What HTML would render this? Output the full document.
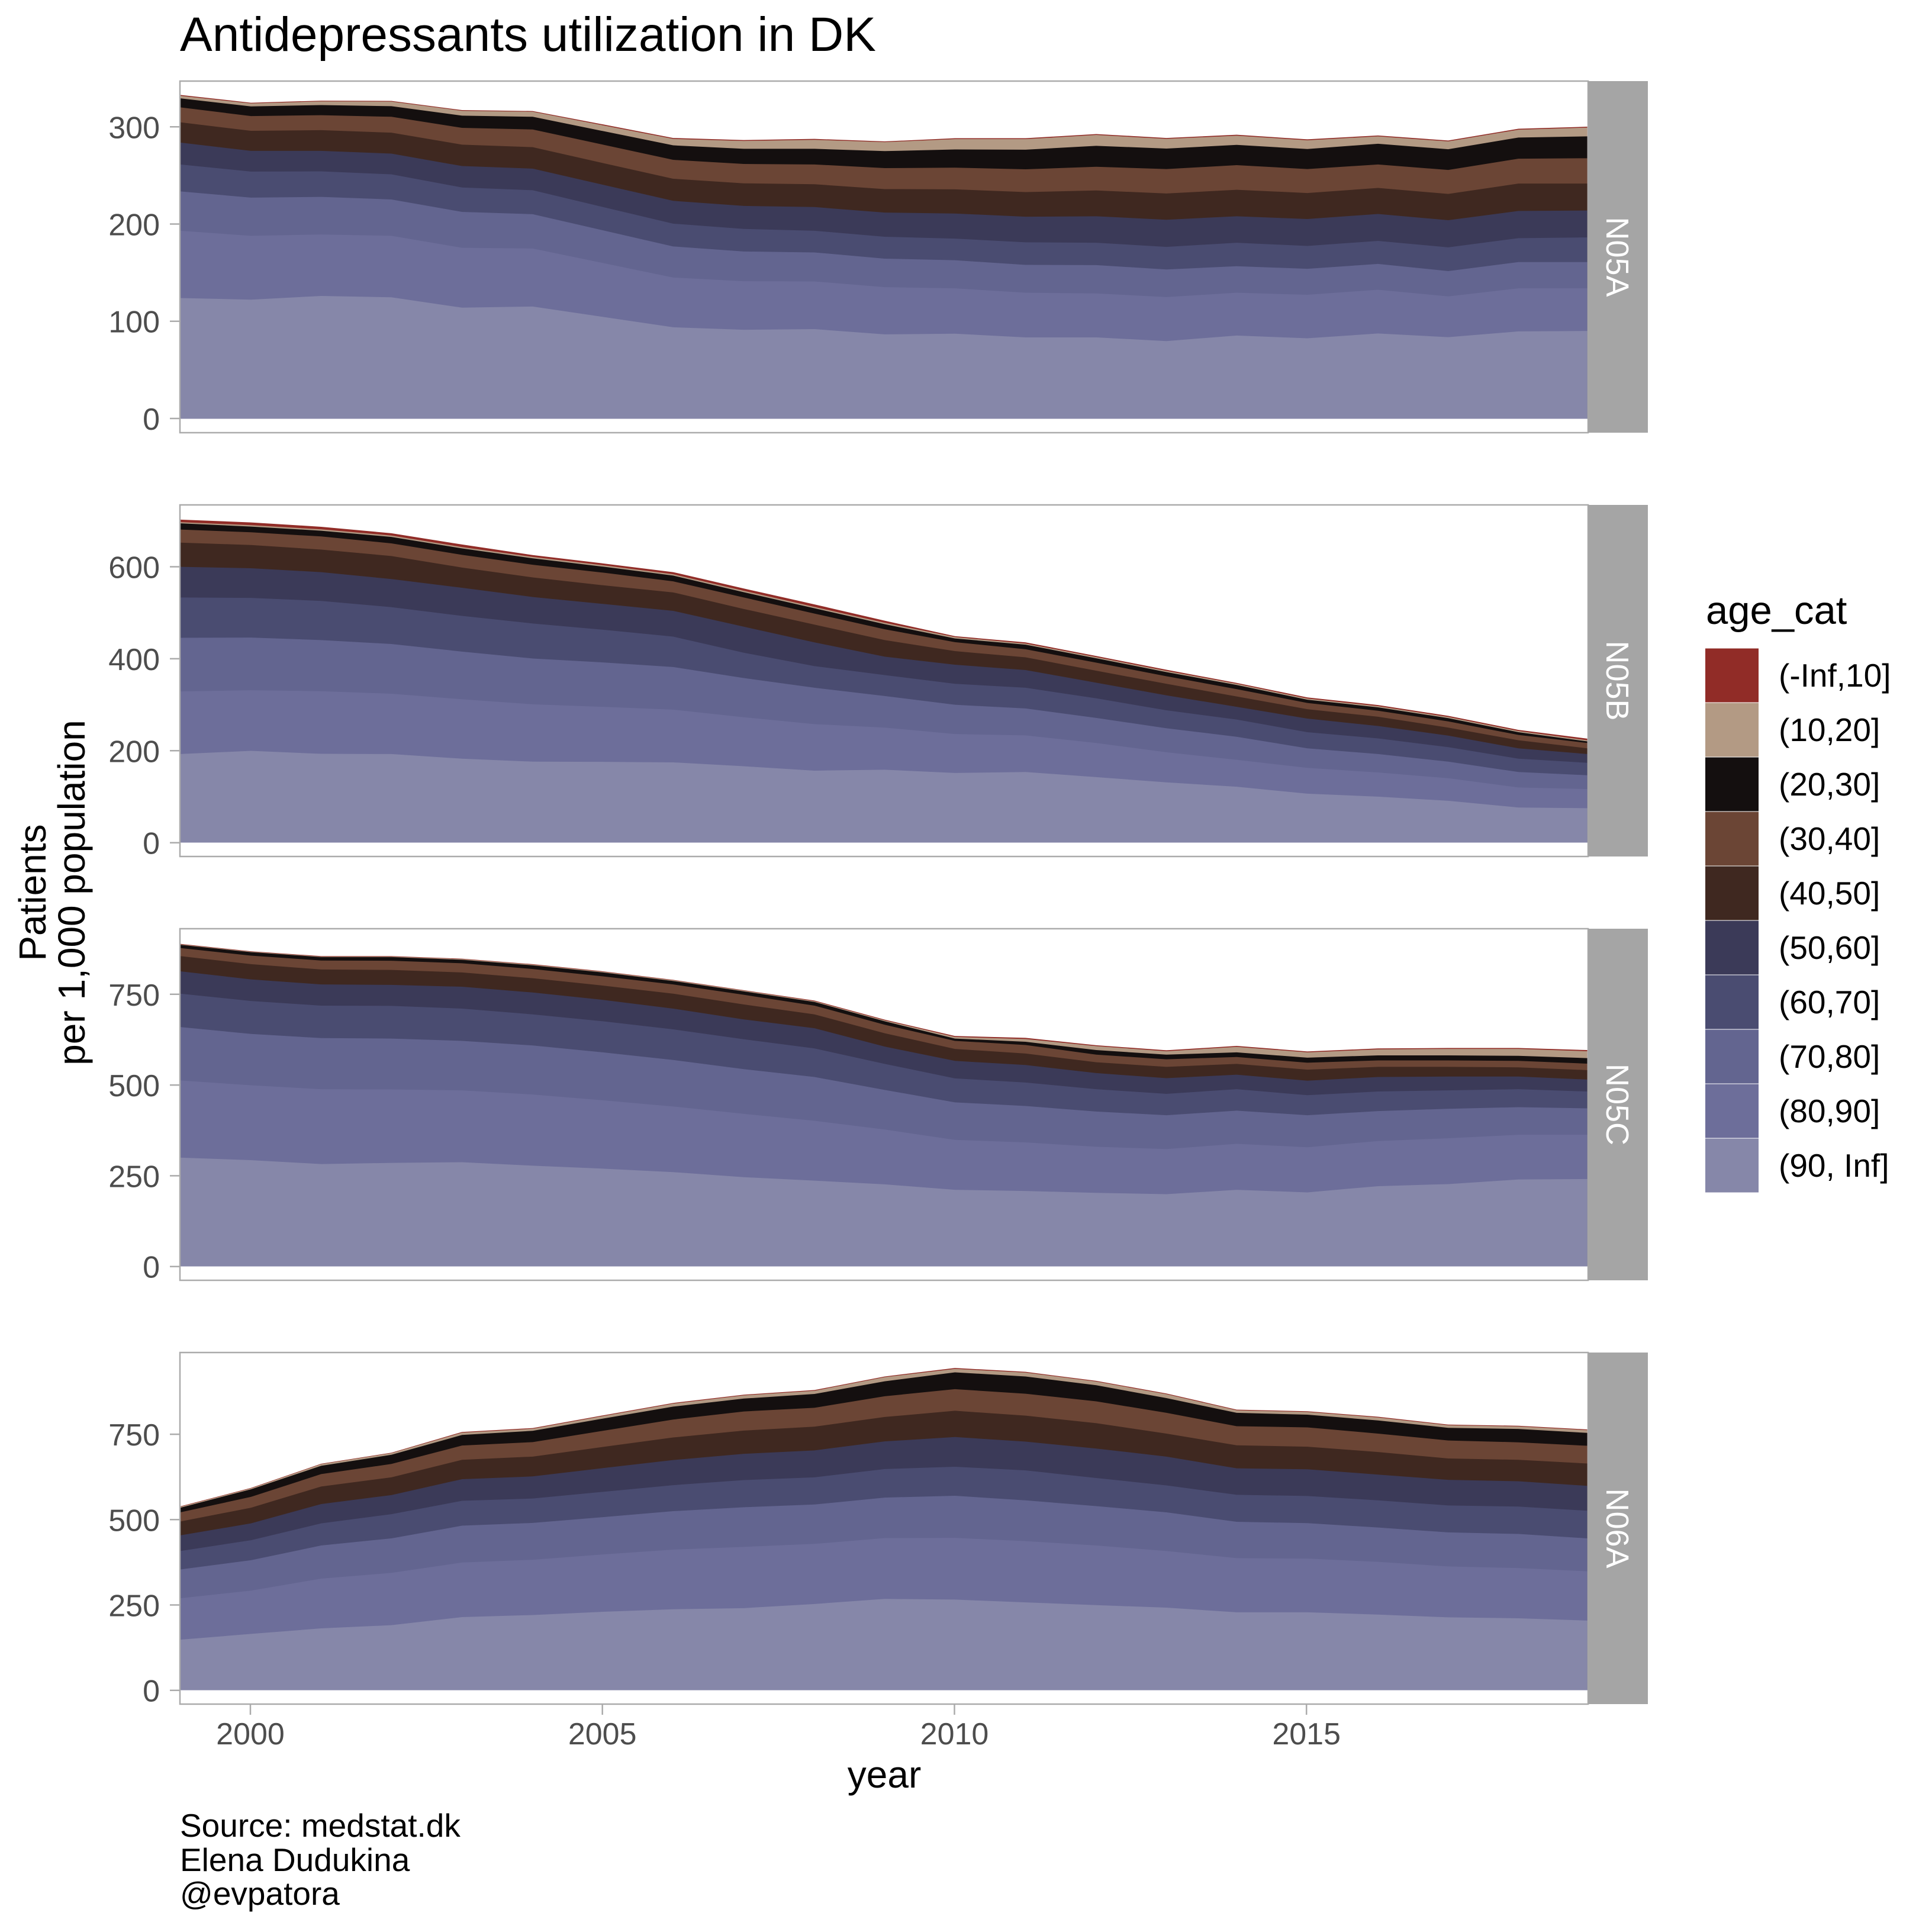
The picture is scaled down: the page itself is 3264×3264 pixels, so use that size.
<!DOCTYPE html>
<html>
<head>
<meta charset="utf-8">
<style>
html,body{margin:0;padding:0;background:#ffffff;}
svg{display:block;}
text{font-family:"Liberation Sans",sans-serif;}
</style>
</head>
<body>
<svg xmlns="http://www.w3.org/2000/svg" width="3264" height="3264" viewBox="0 0 3264 3264">
<rect x="0" y="0" width="3264" height="3264" fill="#ffffff"/>

<!-- Title -->
<text x="304" y="86" font-size="82" fill="#000000">Antidepressants utilization in DK</text>

<!-- ============ PANEL 1 (N05A) ============ -->
<rect x="304" y="137" width="2379" height="594" fill="#ffffff"/>
<g transform="translate(300,130) scale(1.530612,0.389031)">
<polygon fill="#912C27" points="3,78 81,112 158.5,103 236,104 314,144 392,148 469.5,206 547,265 625,274 703,269 780.5,280 858,266 936,266 1014,248 1091.5,265 1169,251 1247,271 1325,254 1402.5,276 1480,225 1556,216 1556,1484 3,1484"/>
<polygon fill="#B39A84" points="3,82 81,115 158.5,106 236,107 314,147 392,151 469.5,210 547,269 625,278 703,273 780.5,283 858,270 936,270 1014,252 1091.5,269 1169,255 1247,275 1325,258 1402.5,280 1480,229 1556,220 1556,1484 3,1484"/>
<polygon fill="#140F0F" points="3,93 81,128 158.5,122 236,127 314,168 392,173 469.5,235 547,297 625,312 703,312 780.5,322 858,315 936,316 1014,299 1091.5,311 1169,295 1247,313 1325,290 1402.5,314 1480,263 1556,258 1556,1484 3,1484"/>
<polygon fill="#6B4535" points="3,132 81,170 158.5,166 236,173 314,221 392,228 469.5,294 547,360 625,378 703,380 780.5,396 858,394 936,401 1014,390 1091.5,400 1169,383 1247,400 1325,380 1402.5,404 1480,355 1556,353 1556,1484 3,1484"/>
<polygon fill="#3F2820" points="3,197 81,234 158.5,231 236,242 314,294 392,305 469.5,374 547,442 625,462 703,466 780.5,487 858,488 936,500 1014,493 1091.5,506 1169,490 1247,504 1325,482 1402.5,508 1480,463 1556,463 1556,1484 3,1484"/>
<polygon fill="#3B3A58" points="3,285 81,321 158.5,321 236,333 314,387 392,398 469.5,468 547,538 625,560 703,565 780.5,589 858,593 936,607 1014,605 1091.5,620 1169,605 1247,617 1325,595 1402.5,622 1480,582 1556,580 1556,1484 3,1484"/>
<polygon fill="#4A4C71" points="3,380 81,411 158.5,410 236,423 314,480 392,492 469.5,565 547,637 625,660 703,668 780.5,694 858,702 936,718 1014,720 1091.5,738 1169,720 1247,734 1325,712 1402.5,740 1480,700 1556,697 1556,1484 3,1484"/>
<polygon fill="#636590" points="3,497 81,524 158.5,521 236,532 314,586 392,596 469.5,666 547,736 625,758 703,762 780.5,789 858,796 936,816 1014,817 1091.5,836 1169,822 1247,833 1325,812 1402.5,843 1480,804 1556,804 1556,1484 3,1484"/>
<polygon fill="#6D6E9A" points="3,668 81,690 158.5,684 236,690 314,742 392,745 469.5,808 547,871 625,887 703,888 780.5,913 858,918 936,937 1014,940 1091.5,956 1169,937 1247,946 1325,924 1402.5,953 1480,918 1556,918 1556,1484 3,1484"/>
<polygon fill="#8687A9" points="3,960 81,967 158.5,951 236,957 314,1002 392,997 469.5,1042 547,1087 625,1098 703,1095 780.5,1118 858,1115 936,1131 1014,1131 1091.5,1147 1169,1123 1247,1135 1325,1114 1402.5,1130 1480,1105 1556,1103 1556,1484 3,1484"/>
</g>
<rect x="304" y="137" width="2379" height="594" fill="none" stroke="#ABABAB" stroke-width="2.5"/>
<rect x="2683" y="137" width="101" height="594" fill="#A5A5A5"/>
<text transform="translate(2714,434) rotate(90)" text-anchor="middle" font-size="54" fill="#ffffff">N05A</text>
<g stroke="#ABABAB" stroke-width="2.5">
<line x1="287" y1="707" x2="304" y2="707"/>
<line x1="287" y1="542.7" x2="304" y2="542.7"/>
<line x1="287" y1="378.5" x2="304" y2="378.5"/>
<line x1="287" y1="214.3" x2="304" y2="214.3"/>
</g>
<g font-size="52" fill="#4D4D4D" text-anchor="end">
<text x="270" y="726">0</text>
<text x="270" y="561.7">100</text>
<text x="270" y="397.5">200</text>
<text x="270" y="233.3">300</text>
</g>

<!-- ============ PANEL 2 (N05B) ============ -->
<rect x="304" y="853" width="2379" height="594" fill="#ffffff"/>
<g transform="translate(300,846) scale(1.530612,0.389031)">
<polygon fill="#912C27" points="3,82 81,94 158.5,113 236,141 314,190 392,236 469.5,272 547,310 625,381 703,450 780.5,521 858,588 936,615 1014,674 1091.5,734 1169,791 1247,854 1325,887 1402.5,934 1480,995 1556,1033 1556,1484 3,1484"/>
<polygon fill="#B39A84" points="3,93 81,106 158.5,124 236,151 314,201 392,244 469.5,280 547,319 625,391 703,461 780.5,530 858,592 936,620 1014,679 1091.5,739 1169,795 1247,859 1325,892 1402.5,939 1480,1000 1556,1040 1556,1484 3,1484"/>
<polygon fill="#140F0F" points="3,98 81,112 158.5,130 236,157 314,207 392,250 469.5,286 547,325 625,397 703,467 780.5,536 858,598 936,625 1014,684 1091.5,744 1169,800 1247,864 1325,897 1402.5,944 1480,1005 1556,1045 1556,1484 3,1484"/>
<polygon fill="#6B4535" points="3,125 81,137 158.5,155 236,185 314,235 392,278 469.5,312 547,350 625,420 703,490 780.5,558 858,614 936,645 1014,703 1091.5,762 1169,818 1247,878 1325,912 1402.5,958 1480,1017 1556,1052 1556,1484 3,1484"/>
<polygon fill="#3F2820" points="3,182 81,192 158.5,212 236,240 314,290 392,333 469.5,367 547,398 625,470 703,538 780.5,605 858,653 936,680 1014,738 1091.5,795 1169,850 1247,905 1325,938 1402.5,985 1480,1040 1556,1075 1556,1484 3,1484"/>
<polygon fill="#3B3A58" points="3,287 81,293 158.5,310 236,340 314,378 392,418 469.5,448 547,478 625,547 703,615 780.5,677 858,712 936,735 1014,790 1091.5,845 1169,895 1247,946 1325,978 1402.5,1020 1480,1075 1556,1100 1556,1484 3,1484"/>
<polygon fill="#4A4C71" points="3,420 81,422 158.5,435 236,462 314,500 392,533 469.5,560 547,590 625,660 703,718 780.5,757 858,795 936,812 1014,858 1091.5,910 1169,950 1247,1005 1325,1032 1402.5,1070 1480,1120 1556,1138 1556,1484 3,1484"/>
<polygon fill="#636590" points="3,595 81,594 158.5,605 236,622 314,655 392,685 469.5,702 547,722 625,770 703,812 780.5,848 858,886 936,902 1014,943 1091.5,988 1169,1025 1247,1075 1325,1100 1402.5,1133 1480,1178 1556,1192 1556,1484 3,1484"/>
<polygon fill="#6D6E9A" points="3,828 81,823 158.5,827 236,838 314,862 392,884 469.5,895 547,907 625,940 703,970 780.5,985 858,1013 936,1019 1014,1052 1091.5,1092 1169,1125 1247,1160 1325,1180 1402.5,1205 1480,1245 1556,1252 1556,1484 3,1484"/>
<polygon fill="#8687A9" points="3,1100 81,1086 158.5,1099 236,1100 314,1120 392,1133 469.5,1134 547,1136 625,1153 703,1172 780.5,1168 858,1182 936,1178 1014,1200 1091.5,1223 1169,1242 1247,1272 1325,1285 1402.5,1303 1480,1332 1556,1335 1556,1484 3,1484"/>
</g>
<rect x="304" y="853" width="2379" height="594" fill="none" stroke="#ABABAB" stroke-width="2.5"/>
<rect x="2683" y="853" width="101" height="594" fill="#A5A5A5"/>
<text transform="translate(2714,1150) rotate(90)" text-anchor="middle" font-size="54" fill="#ffffff">N05B</text>
<g stroke="#ABABAB" stroke-width="2.5">
<line x1="287" y1="1423.7" x2="304" y2="1423.7"/>
<line x1="287" y1="1268.3" x2="304" y2="1268.3"/>
<line x1="287" y1="1112.9" x2="304" y2="1112.9"/>
<line x1="287" y1="957.5" x2="304" y2="957.5"/>
</g>
<g font-size="52" fill="#4D4D4D" text-anchor="end">
<text x="270" y="1442.7">0</text>
<text x="270" y="1287.3">200</text>
<text x="270" y="1131.9">400</text>
<text x="270" y="976.5">600</text>
</g>

<!-- ============ PANEL 3 (N05C) ============ -->
<rect x="304" y="1569" width="2379" height="594" fill="#ffffff"/>
<g transform="translate(300,1562) scale(1.530612,0.389031)">
<polygon fill="#912C27" points="3,84 81,116 158.5,137 236,137 314,148 392,172 469.5,203 547,240 625,285 703,330 780.5,413 858,484 936,492 1014,524 1091.5,546 1169,527 1247,551 1325,538 1402.5,536 1480,536 1556,545 1556,1484 3,1484"/>
<polygon fill="#B39A84" points="3,86 81,118 158.5,139 236,139 314,150 392,174 469.5,205 547,242 625,287 703,333 780.5,416 858,488 936,497 1014,528 1091.5,550 1169,531 1247,555 1325,542 1402.5,540 1480,540 1556,550 1556,1484 3,1484"/>
<polygon fill="#140F0F" points="3,88 81,120 158.5,141 236,141 314,153 392,177 469.5,208 547,245 625,290 703,336 780.5,420 858,495 936,509 1014,545 1091.5,565 1169,555 1247,578 1325,568 1402.5,568 1480,570 1556,580 1556,1484 3,1484"/>
<polygon fill="#6B4535" points="3,102 81,135 158.5,156 236,157 314,168 392,193 469.5,225 547,260 625,305 703,352 780.5,435 858,505 936,523 1014,565 1091.5,585 1169,575 1247,600 1325,590 1402.5,590 1480,592 1556,604 1556,1484 3,1484"/>
<polygon fill="#3F2820" points="3,137 81,172 158.5,195 236,197 314,208 392,233 469.5,265 547,300 625,347 703,390 780.5,472 858,540 936,560 1014,598 1091.5,618 1169,605 1247,630 1325,618 1402.5,618 1480,620 1556,632 1556,1484 3,1484"/>
<polygon fill="#3B3A58" points="3,203 81,238 158.5,260 236,262 314,270 392,295 469.5,327 547,365 625,412 703,450 780.5,530 858,592 936,610 1014,645 1091.5,667 1169,652 1247,678 1325,662 1402.5,660 1480,660 1556,673 1556,1484 3,1484"/>
<polygon fill="#4A4C71" points="3,300 81,332 158.5,352 236,353 314,365 392,390 469.5,420 547,455 625,498 703,538 780.5,605 858,668 936,686 1014,715 1091.5,735 1169,715 1247,741 1325,725 1402.5,720 1480,715 1556,725 1556,1484 3,1484"/>
<polygon fill="#636590" points="3,445 81,475 158.5,493 236,495 314,505 392,525 469.5,555 547,588 625,628 703,662 780.5,718 858,772 936,788 1014,812 1091.5,828 1169,808 1247,828 1325,810 1402.5,800 1480,793 1556,798 1556,1484 3,1484"/>
<polygon fill="#6D6E9A" points="3,677 81,698 158.5,715 236,716 314,720 392,738 469.5,763 547,790 625,822 703,852 780.5,890 858,935 936,946 1014,965 1091.5,975 1169,952 1247,967 1325,940 1402.5,928 1480,913 1556,913 1556,1484 3,1484"/>
<polygon fill="#8687A9" points="3,1012 81,1023 158.5,1040 236,1035 314,1032 392,1047 469.5,1060 547,1075 625,1097 703,1112 780.5,1128 858,1152 936,1157 1014,1165 1091.5,1171 1169,1152 1247,1163 1325,1136 1402.5,1127 1480,1107 1556,1105 1556,1484 3,1484"/>
</g>
<rect x="304" y="1569" width="2379" height="594" fill="none" stroke="#ABABAB" stroke-width="2.5"/>
<rect x="2683" y="1569" width="101" height="594" fill="#A5A5A5"/>
<text transform="translate(2714,1866) rotate(90)" text-anchor="middle" font-size="54" fill="#ffffff">N05C</text>
<g stroke="#ABABAB" stroke-width="2.5">
<line x1="287" y1="2139.7" x2="304" y2="2139.7"/>
<line x1="287" y1="1986.4" x2="304" y2="1986.4"/>
<line x1="287" y1="1833.1" x2="304" y2="1833.1"/>
<line x1="287" y1="1679.8" x2="304" y2="1679.8"/>
</g>
<g font-size="52" fill="#4D4D4D" text-anchor="end">
<text x="270" y="2158.7">0</text>
<text x="270" y="2005.4">250</text>
<text x="270" y="1852.1">500</text>
<text x="270" y="1698.8">750</text>
</g>

<!-- ============ PANEL 4 (N06A) ============ -->
<rect x="304" y="2285" width="2379" height="594" fill="#ffffff"/>
<g transform="translate(300,2278) scale(1.530612,0.389031)">
<polygon fill="#912C27" points="3,686 81,606 158.5,501 236,453 314,363 392,346 469.5,291 547,237 625,201 703,181 780.5,122 858,85 936,102 1014,141 1091.5,196 1169,266 1247,273 1325,297 1402.5,331 1480,336 1556,352 1556,1484 3,1484"/>
<polygon fill="#B39A84" points="3,688 81,608 158.5,503 236,455 314,366 392,349 469.5,294 547,240 625,204 703,184 780.5,125 858,89 936,105 1014,144 1091.5,199 1169,269 1247,276 1325,300 1402.5,334 1480,339 1556,355 1556,1484 3,1484"/>
<polygon fill="#140F0F" points="3,692 81,612 158.5,510 236,462 314,376 392,358 469.5,305 547,253 625,218 703,198 780.5,143 858,104 936,122 1014,160 1091.5,216 1169,280 1247,288 1325,313 1402.5,345 1480,350 1556,367 1556,1484 3,1484"/>
<polygon fill="#6B4535" points="3,712 81,645 158.5,546 236,502 314,422 392,407 469.5,358 547,309 625,274 703,258 780.5,208 858,177 936,197 1014,230 1091.5,280 1169,338 1247,343 1325,370 1402.5,400 1480,408 1556,423 1556,1484 3,1484"/>
<polygon fill="#3F2820" points="3,752 81,692 158.5,600 236,560 314,484 392,470 469.5,428 547,387 625,357 703,340 780.5,298 858,271 936,292 1014,325 1091.5,370 1169,421 1247,427 1325,450 1402.5,478 1480,484 1556,500 1556,1484 3,1484"/>
<polygon fill="#3B3A58" points="3,812 81,760 158.5,676 236,637 314,568 392,556 469.5,520 547,485 625,458 703,443 780.5,404 858,385 936,405 1014,435 1091.5,470 1169,521 1247,525 1325,548 1402.5,571 1480,577 1556,597 1556,1484 3,1484"/>
<polygon fill="#4A4C71" points="3,880 81,833 158.5,760 236,720 314,662 392,652 469.5,623 547,594 625,572 703,560 780.5,524 858,514 936,530 1014,563 1091.5,595 1169,636 1247,641 1325,660 1402.5,682 1480,687 1556,705 1556,1484 3,1484"/>
<polygon fill="#636590" points="3,960 81,920 158.5,856 236,825 314,770 392,758 469.5,733 547,707 625,690 703,678 780.5,648 858,640 936,660 1014,685 1091.5,712 1169,753 1247,759 1325,778 1402.5,799 1480,806 1556,825 1556,1484 3,1484"/>
<polygon fill="#6D6E9A" points="3,1085 81,1052 158.5,1000 236,975 314,930 392,918 469.5,895 547,874 625,862 703,849 780.5,824 858,823 936,837 1014,856 1091.5,880 1169,911 1247,913 1325,927 1402.5,947 1480,954 1556,968 1556,1484 3,1484"/>
<polygon fill="#8687A9" points="3,1265 81,1240 158.5,1216 236,1202 314,1167 392,1158 469.5,1144 547,1133 625,1128 703,1110 780.5,1088 858,1091 936,1103 1014,1115 1091.5,1126 1169,1146 1247,1146 1325,1156 1402.5,1168 1480,1172 1556,1182 1556,1484 3,1484"/>
</g>
<rect x="304" y="2285" width="2379" height="594" fill="none" stroke="#ABABAB" stroke-width="2.5"/>
<rect x="2683" y="2285" width="101" height="594" fill="#A5A5A5"/>
<text transform="translate(2714,2582) rotate(90)" text-anchor="middle" font-size="54" fill="#ffffff">N06A</text>
<g stroke="#ABABAB" stroke-width="2.5">
<line x1="287" y1="2855.7" x2="304" y2="2855.7"/>
<line x1="287" y1="2711.5" x2="304" y2="2711.5"/>
<line x1="287" y1="2567.3" x2="304" y2="2567.3"/>
<line x1="287" y1="2423.1" x2="304" y2="2423.1"/>
</g>
<g font-size="52" fill="#4D4D4D" text-anchor="end">
<text x="270" y="2874.7">0</text>
<text x="270" y="2730.5">250</text>
<text x="270" y="2586.3">500</text>
<text x="270" y="2442.1">750</text>
</g>

<!-- X axis ticks and labels -->
<g stroke="#ABABAB" stroke-width="2.5">
<line x1="423" y1="2880" x2="423" y2="2897"/>
<line x1="1017.7" y1="2880" x2="1017.7" y2="2897"/>
<line x1="1612.5" y1="2880" x2="1612.5" y2="2897"/>
<line x1="2207.2" y1="2880" x2="2207.2" y2="2897"/>
</g>
<g font-size="52" fill="#4D4D4D" text-anchor="middle">
<text x="423" y="2947">2000</text>
<text x="1017.7" y="2947">2005</text>
<text x="1612.5" y="2947">2010</text>
<text x="2207.2" y="2947">2015</text>
</g>

<!-- Axis titles -->
<text x="1494" y="3020" font-size="64" fill="#000000" text-anchor="middle">year</text>
<text transform="translate(77,1508) rotate(-90)" font-size="64" fill="#000000" text-anchor="middle">Patients</text>
<text transform="translate(143,1508) rotate(-90)" font-size="64" fill="#000000" text-anchor="middle">per 1,000 population</text>

<!-- Legend -->
<text x="2882" y="1054" font-size="67" fill="#000000">age_cat</text>
<g>
<rect x="2881" y="1095.5" width="90" height="91" fill="#912C27"/>
<rect x="2881" y="1187.5" width="90" height="91" fill="#B39A84"/>
<rect x="2881" y="1279.5" width="90" height="91" fill="#140F0F"/>
<rect x="2881" y="1371.5" width="90" height="91" fill="#6B4535"/>
<rect x="2881" y="1463.5" width="90" height="91" fill="#3F2820"/>
<rect x="2881" y="1555.5" width="90" height="91" fill="#3B3A58"/>
<rect x="2881" y="1647.5" width="90" height="91" fill="#4A4C71"/>
<rect x="2881" y="1739.5" width="90" height="91" fill="#636590"/>
<rect x="2881" y="1831.5" width="90" height="91" fill="#6D6E9A"/>
<rect x="2881" y="1923.5" width="90" height="91" fill="#8687A9"/>
</g>
<g font-size="55" fill="#000000">
<text x="3005" y="1160">(-Inf,10]</text>
<text x="3005" y="1252">(10,20]</text>
<text x="3005" y="1344">(20,30]</text>
<text x="3005" y="1436">(30,40]</text>
<text x="3005" y="1528">(40,50]</text>
<text x="3005" y="1620">(50,60]</text>
<text x="3005" y="1712">(60,70]</text>
<text x="3005" y="1804">(70,80]</text>
<text x="3005" y="1896">(80,90]</text>
<text x="3005" y="1988">(90, Inf]</text>
</g>

<!-- Caption -->
<g font-size="55" fill="#000000">
<text x="304" y="3103">Source: medstat.dk</text>
<text x="304" y="3161">Elena Dudukina</text>
<text x="304" y="3218">@evpatora</text>
</g>
</svg>
</body>
</html>
